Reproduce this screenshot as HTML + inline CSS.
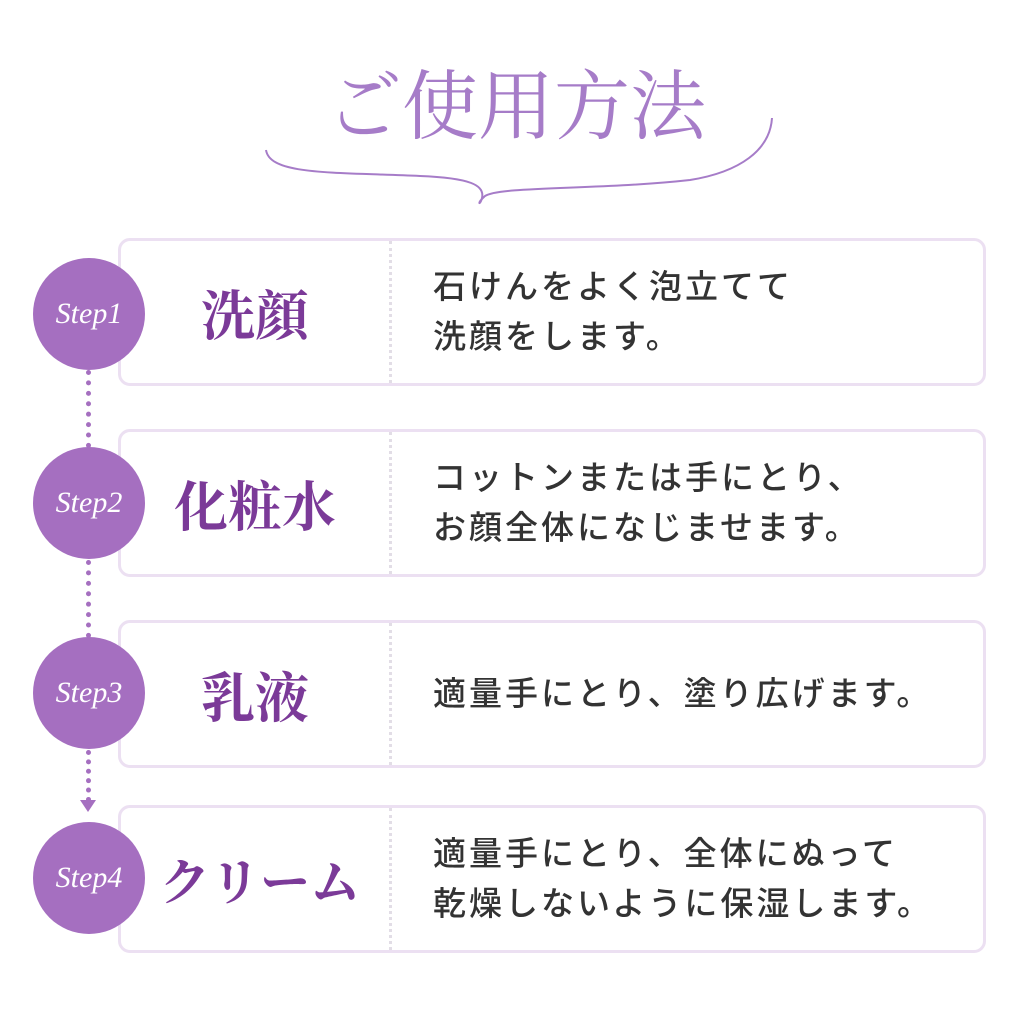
<!DOCTYPE html>
<html><head><meta charset="utf-8"><style>
body{margin:0;width:1024px;height:1024px;background:#fff;position:relative;overflow:hidden;font-family:"Liberation Sans","Noto Sans CJK JP",sans-serif}
.t{position:absolute;left:0;width:1024px;top:58px;text-align:center;font-family:"Liberation Serif","Noto Serif CJK SC",serif;font-size:76px;color:#a67cc8;line-height:100px;padding-left:8px;box-sizing:border-box}
.box{position:absolute;left:118px;width:868px;height:148px;border:3px solid #ece0f2;border-radius:12px;box-sizing:border-box}
.div{position:absolute;left:268px;top:0;bottom:0;border-left:3px dotted #e2dde6}
.name{position:absolute;left:0;width:268px;top:0;height:142px;display:flex;align-items:center;justify-content:center;font-family:"Liberation Serif","Noto Serif CJK SC",serif;font-size:54px;color:#7b3a98;font-weight:bold}
.desc{position:absolute;left:312px;top:0;height:142px;display:flex;align-items:center;font-size:33px;color:#333;line-height:50px;letter-spacing:3px;font-weight:500}
.c{position:absolute;left:33px;width:112px;height:112px;border-radius:50%;background:#a56fc0;color:#fff;font-family:"Liberation Serif",serif;font-style:italic;font-size:30px;display:flex;align-items:center;justify-content:center}
.dots{position:absolute;left:86px;width:0;border-left:5px dotted #a56fc0}
</style></head><body>
<div class="t">ご使用方法</div>
<svg style="position:absolute;left:0;top:0" width="1024" height="240"><path d="M266 150 C270 175 330 172 420 176 C470 178 485 185 482 198 C480 206 476 204 485 196 C500 186 600 190 690 180 C740 172 770 150 772 118" fill="none" stroke="#a67cc8" stroke-width="2"/></svg>
<div class="dots" style="top:370px;height:78px"></div>
<div class="dots" style="top:560px;height:78px"></div>
<div class="dots" style="top:750px;height:52px"></div>
<svg style="position:absolute;left:78px;top:798px" width="20" height="16"><path d="M2 2 L18 2 L10 14 Z" fill="#a56fc0"/></svg>
<div class="box" style="top:238px"><div class="div"></div><div class="name">洗顔</div><div class="desc">石けんをよく泡立てて<br>洗顔をします。</div></div>
<div class="box" style="top:429px"><div class="div"></div><div class="name">化粧水</div><div class="desc">コットンまたは手にとり、<br>お顔全体になじませます。</div></div>
<div class="box" style="top:620px"><div class="div"></div><div class="name">乳液</div><div class="desc">適量手にとり、塗り広げます。</div></div>
<div class="box" style="top:805px"><div class="div"></div><div class="name" style="left:0;width:268px;font-size:50px;padding-left:10px;box-sizing:border-box">クリーム</div><div class="desc">適量手にとり、全体にぬって<br>乾燥しないように保湿します。</div></div>
<div class="c" style="top:258px">Step1</div>
<div class="c" style="top:447px">Step2</div>
<div class="c" style="top:637px">Step3</div>
<div class="c" style="top:822px">Step4</div>
</body></html>
